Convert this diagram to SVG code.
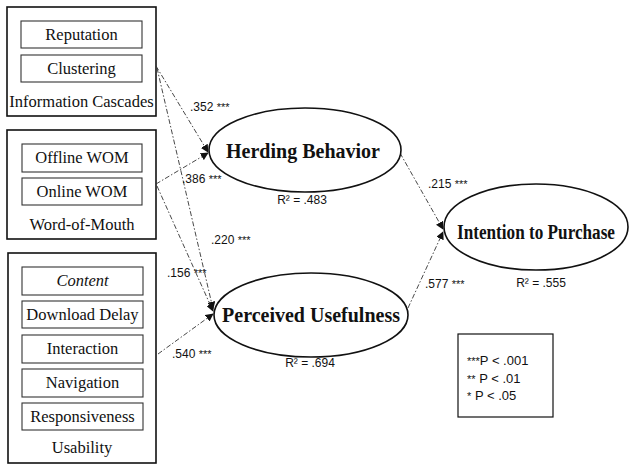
<svg xmlns="http://www.w3.org/2000/svg" width="630" height="464" viewBox="0 0 630 464">
<defs>
<style>
.outer{fill:#fff;stroke:#111;stroke-width:1.6}
.inner{fill:#fff;stroke:#333;stroke-width:1.1}
.it{font-family:"Liberation Serif",serif;font-size:16.5px;fill:#111;text-anchor:middle}
.gl{font-family:"Liberation Serif",serif;font-size:16.5px;fill:#111;text-anchor:middle}
.ell{fill:#fff;stroke:#111;stroke-width:1.6}
.et{font-family:"Liberation Serif",serif;font-weight:bold;font-size:20px;fill:#111;text-anchor:middle}
.r2{font-family:"Liberation Sans",sans-serif;font-size:12px;fill:#111;text-anchor:middle}
.co{font-family:"Liberation Sans",sans-serif;font-size:12px;fill:#111}
.st{font-size:11px}
.cn{fill:none;stroke:#333;stroke-width:0.9;stroke-dasharray:5 2 1.5 2}
.lg{font-family:"Liberation Sans",sans-serif;font-size:13px;fill:#111}
</style>
<marker id="ah" viewBox="0 0 10 10" refX="9" refY="5" markerWidth="8" markerHeight="8" orient="auto" markerUnits="userSpaceOnUse">
<path d="M0,0 L10,5 L0,10 z" fill="#111"/>
</marker>
</defs>
<rect width="630" height="464" fill="#fff"/>

<g id="info-cascades">
<rect class="outer" x="7" y="7" width="149" height="109"/>
<rect class="inner" x="21" y="21" width="121" height="27"/>
<text class="it" x="81.5" y="40">Reputation</text>
<rect class="inner" x="21" y="55" width="121" height="27"/>
<text class="it" x="81.5" y="74">Clustering</text>
<text class="gl" x="81.5" y="107" font-size="17">Information Cascades</text>
</g>

<g id="word-of-mouth">
<rect class="outer" x="7" y="130" width="149" height="109"/>
<rect class="inner" x="22" y="144" width="120" height="28"/>
<text class="it" x="82" y="163">Offline WOM</text>
<rect class="inner" x="22" y="178" width="120" height="27"/>
<text class="it" x="82" y="197">Online WOM</text>
<text class="gl" x="82" y="230">Word-of-Mouth</text>
</g>

<g id="usability">
<rect class="outer" x="8" y="253" width="148" height="210"/>
<rect class="inner" x="22" y="267" width="121" height="28"/>
<text class="it" x="82.5" y="286" font-style="italic">Content</text>
<rect class="inner" x="22" y="301" width="121" height="27"/>
<text class="it" x="82.5" y="320">Download Delay</text>
<rect class="inner" x="22" y="335" width="121" height="28"/>
<text class="it" x="82.5" y="354">Interaction</text>
<rect class="inner" x="22" y="369" width="121" height="28"/>
<text class="it" x="82.5" y="388">Navigation</text>
<rect class="inner" x="22" y="403" width="121" height="27"/>
<text class="it" x="82.5" y="422">Responsiveness</text>
<text class="gl" x="82" y="453">Usability</text>
</g>

<g id="connectors">
<line class="cn" x1="156" y1="66" x2="208" y2="152" marker-end="url(#ah)"/>
<line class="cn" x1="156" y1="184" x2="208" y2="153" marker-end="url(#ah)"/>
<line class="cn" x1="157" y1="68" x2="213" y2="309" marker-end="url(#ah)"/>
<line class="cn" x1="157" y1="186" x2="213" y2="311" marker-end="url(#ah)"/>
<line class="cn" x1="158" y1="354" x2="213" y2="314" marker-end="url(#ah)"/>
<line class="cn" x1="400" y1="153" x2="443" y2="229" marker-end="url(#ah)"/>
<line class="cn" x1="408" y1="308" x2="443" y2="232" marker-end="url(#ah)"/>
<text class="co" x="190" y="111">.352 <tspan class="st">***</tspan></text>
<text class="co" x="182" y="183">.386 <tspan class="st">***</tspan></text>
<text class="co" x="211" y="244">.220 <tspan class="st">***</tspan></text>
<text class="co" x="167" y="277">.156 <tspan class="st">***</tspan></text>
<text class="co" x="172" y="358">.540 <tspan class="st">***</tspan></text>
<text class="co" x="428" y="188">.215 <tspan class="st">***</tspan></text>
<text class="co" x="425" y="288">.577 <tspan class="st">***</tspan></text>
</g>

<g id="herding">
<ellipse class="ell" cx="305" cy="150" rx="96" ry="42"/>
<text class="et" x="303" y="158">Herding Behavior</text>
<text class="r2" x="302" y="204">R² = .483</text>
</g>

<g id="perceived">
<ellipse class="ell" cx="311" cy="315" rx="97" ry="42"/>
<text class="et" x="311" y="322" font-size="19">Perceived Usefulness</text>
<text class="r2" x="310" y="367">R² = .694</text>
</g>

<g id="intention">
<ellipse class="ell" cx="536" cy="227" rx="92" ry="43"/>
<text class="et" x="536" y="239" font-size="17" textLength="158" lengthAdjust="spacingAndGlyphs">Intention to Purchase</text>
<text class="r2" x="541" y="287">R² = .555</text>
</g>

<g id="legend">
<rect x="458" y="334" width="95" height="83" fill="#fff" stroke="#111" stroke-width="1.2"/>
<text class="lg" x="467" y="365"><tspan class="st">***</tspan>P &lt; .001</text>
<text class="lg" x="467" y="383"><tspan class="st">**</tspan> P &lt; .01</text>
<text class="lg" x="467" y="400"><tspan class="st">*</tspan>  P &lt; .05</text>
</g>
</svg>
